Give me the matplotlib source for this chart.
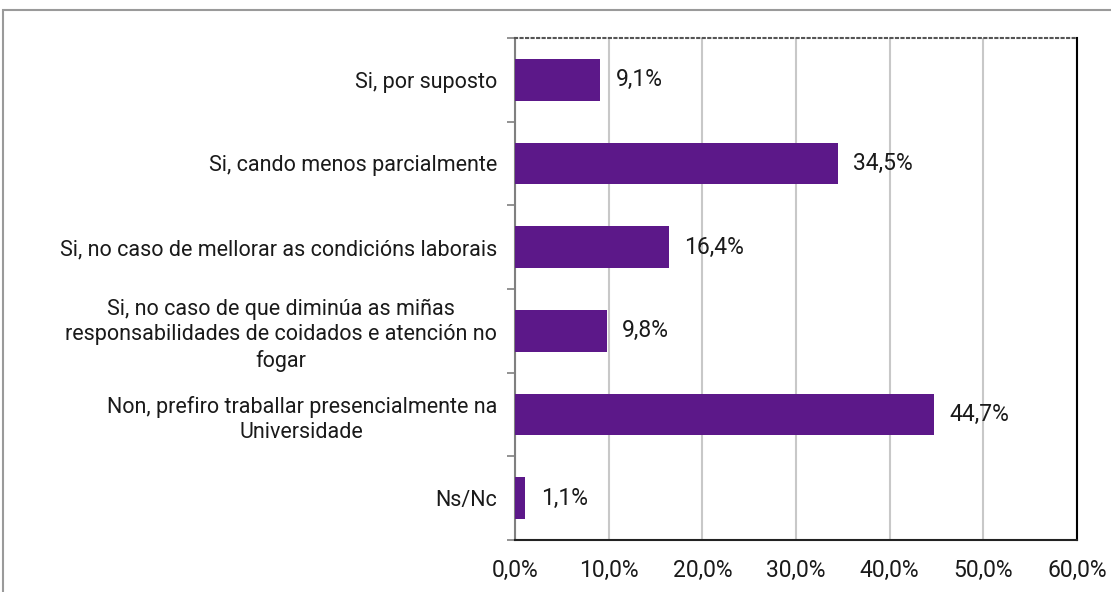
import matplotlib.pyplot as plt
from matplotlib.patches import Rectangle
from matplotlib.ticker import FuncFormatter

plt.rcParams['font.family'] = ['Roboto', 'DejaVu Sans']

# Data
categories = [
    "Si, por suposto",
    "Si, cando menos parcialmente",
    "Si, no caso de mellorar as condicións laborais",
    "Si, no caso de que diminúa as miñas\nresponsabilidades de coidados e atención no\nfogar",
    "Non, prefiro traballar presencialmente na\nUniversidade",
    "Ns/Nc",
]
values = [9.1, 34.5, 16.4, 9.8, 44.7, 1.1]
x_ticks = [0, 10, 20, 30, 40, 50, 60]

bar_color = "#5C1889"
text_color = "#1a1a1a"

fig = plt.figure(figsize=(11.11, 5.92), dpi=100)
ax = fig.add_axes([515 / 1111, 1 - 540 / 592, 562 / 1111, 502 / 592])

# outer chart frame (partly cut off)
fig.patches.append(Rectangle((3 / 1111, -0.05), 1.2, 1 - 10 / 592 + 0.05,
                             transform=fig.transFigure, fill=False,
                             edgecolor="#9a9a9a", linewidth=1.5))

y = list(range(len(categories)))
ax.barh(y, values, height=0.5, color=bar_color, zorder=3)

# value labels
for yi, v in zip(y, values):
    ax.annotate(f"{v:.1f}%".replace(".", ","), (v, yi), xytext=(11, 0),
                textcoords="offset points", va="center", ha="left",
                fontsize=16.5, color=text_color)

ax.set_xlim(0, 60)
ax.set_ylim(len(categories) - 0.5, -0.5)
ax.set_xticks(x_ticks)
ax.xaxis.set_major_formatter(FuncFormatter(lambda v, p: f"{v:.1f}%".replace(".", ",")))
ax.set_yticks(y)
ax.set_yticklabels(categories, multialignment="center", linespacing=1.25)
ax.set_yticks([i + 0.5 for i in range(-1, len(categories))], minor=True)

ax.tick_params(axis="x", length=0, labelsize=16.5, pad=14, colors=text_color)
ax.tick_params(axis="y", which="major", length=0, labelsize=15.5, pad=13, colors=text_color)
ax.tick_params(axis="y", which="minor", length=6, color="#808080", width=1.2)

ax.grid(axis="x", color="#c8c8c8", linewidth=1.5, zorder=0)

ax.spines["left"].set_color("#808080")
ax.spines["left"].set_linewidth(1.5)
ax.spines["bottom"].set_color("#222222")
ax.spines["bottom"].set_linewidth(1.5)
ax.spines["right"].set_color("#000000")
ax.spines["right"].set_linewidth(1.5)
ax.spines["top"].set_color("#555555")
ax.spines["top"].set_linestyle(":")
ax.spines["top"].set_linewidth(1.5)

fig.savefig("out.png", dpi=100)
